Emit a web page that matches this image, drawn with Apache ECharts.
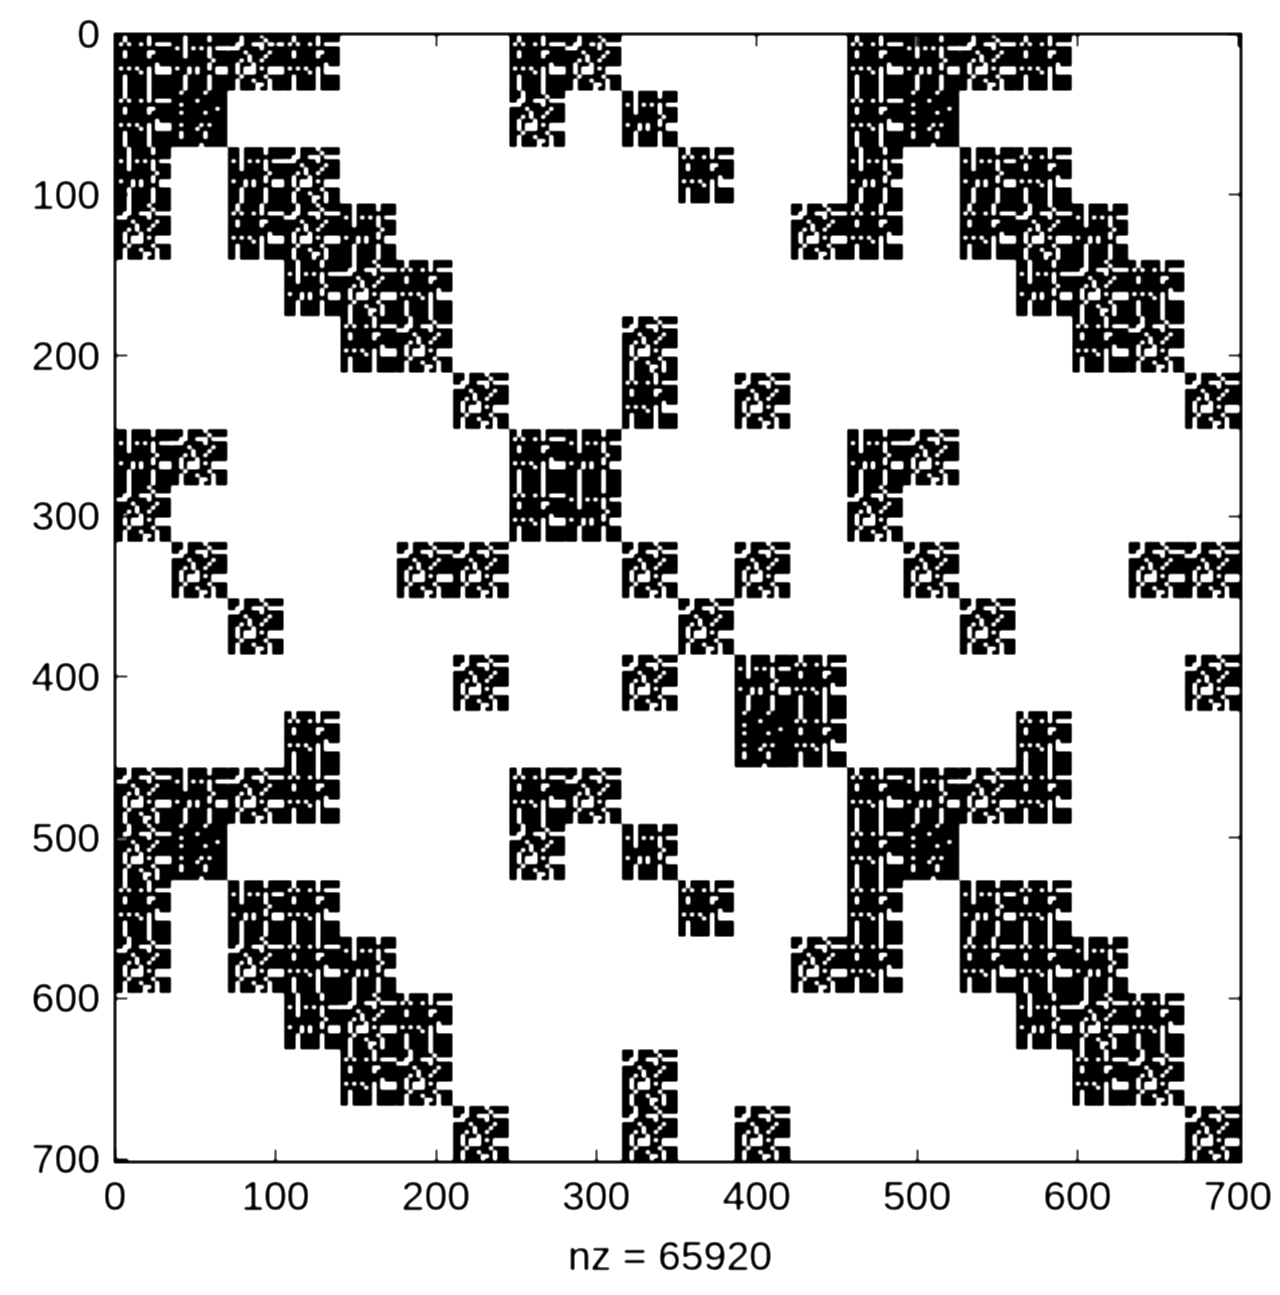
<!DOCTYPE html>
<html><head><meta charset="utf-8">
<style>html,body{margin:0;padding:0;background:#fff}#c{width:1280px;height:1295px;filter:blur(0.9px) brightness(1.25) contrast(1.35)}</style>
<script src="https://cdn.jsdelivr.net/npm/echarts@6/dist/echarts.min.js"></script>
</head><body><div id="c"></div>
<script>
const tickValues = [0,100,200,300,400,500,600,700];
const xTitle = 'nz = 65920';
const axisMax = 702;
const blockSpan = 35.1;
// which 35x35 block of the matrix holds non-zeros, and which texture it shows
const blockRows = [
"ABCA...AC....ABCA...",
"AD.....C.B...AD.....",
"B.BC......A..B.BA...",
"C.ACB.......CA.ACB..",
"...BCA..........BCA.",
"....AC...C.......AC.",
"......C..A.C.......C",
"BC.....AB....BC.....",
"C......AB....C......",
".C...CC..C.C..C...CC",
"..C.......C....C....",
"......C..C.BA......C",
"...A.......DA...A...",
"CBCA...AC....ABCA...",
"CD.....C.B...AD.....",
"A.BA......A..A.BA...",
"C.CAB.......CA.AAB..",
"...BCA..........BCA.",
"....AC...C.......AC.",
"......C..C.C.......C"
];
const tileA = [
"##.#####.#####",
"##.#####.#####",
"#.#.##.#.#....",
"##############",
"##.#####..####",
"##.#####.#####",
"##############",
"##########.###",
"#.#.#.##.#....",
"######.#.#....",
"##.#####.#####",
"##.#####.#####",
"##.#####.#####",
"##.#####.#####"];
const tileB = [
"###.#####.####",
"###.#####.####",
"###.##########",
"#.#.#.#.#.#...",
"###.#####.####",
"###.#####.####",
"##########.###",
"#########.####",
"#.##.#.##.#...",
"####.#.####...",
"###.#####.####",
"###.#####.####",
"###.#####.####",
"###.#####.####"];
const tileC = [
"###.####.#####",
"###.#####.####",
"##..##...#....",
"...#####.#####",
"####.#####.###",
"#####.###.####",
"###.#.##.#####",
"##.###.#######",
"##.#...#.#....",
"##.#...###....",
"###.#####.####",
"##.###.###.###",
"##.####..#.###",
"##.####.##.###"];
const tileD = [
"##.#####.#####",
"##############",
"######.#######",
"##.###########",
"###########.##",
"##.#####.#####",
"##############",
"##############",
"##.####.#.####",
"######.#######",
"##.#####.#####",
"##.#####.#####",
"##############",
"#######.######"];
const tiles = {A:tileA,B:tileB,C:tileC,D:tileD};

const tileRuns = {};
Object.keys(tiles).forEach(k=>{
  const runs=[];
  tiles[k].forEach((line,r)=>{
    let s=-1;
    for(let i=0;i<=line.length;i++){
      if(line[i]==='#'){ if(s<0) s=i; }
      else if(s>=0){ runs.push([s,i,r]); s=-1; }
    }
  });
  tileRuns[k]=runs;
});
const tileKeys = Object.keys(tiles);
const cells=[];
blockRows.forEach((row,r)=>{
  for(let c=0;c<row.length;c++){
    if(row[c]!=='.') cells.push([c*blockSpan,r*blockSpan,tileKeys.indexOf(row[c])]);
  }
});
const ink='#000', axisInk='#000', textInk='#000', font='"Liberation Sans", Arial, sans-serif', fs=41;
const unit=blockSpan/14;
function renderItem(params,api){
  const x=api.value(0), y=api.value(1), runs=tileRuns[tileKeys[api.value(2)]];
  const children=runs.map(run=>{
    const p0=api.coord([x+run[0]*unit,y+run[2]*unit]);
    const p1=api.coord([x+run[1]*unit,y+(run[2]+1)*unit]);
    return {type:'rect',shape:{x:p0[0],y:p0[1],width:p1[0]-p0[0],height:p1[1]-p0[1]+0.5},style:{fill:ink}};
  });
  return {type:'group',children};
}
const line={show:true,onZero:false,lineStyle:{color:axisInk,width:3.5}};
const tick={show:true,inside:true,length:13,customValues:tickValues,lineStyle:{color:axisInk,width:2.5}};
const label={show:true,fontFamily:font,fontSize:fs,color:textInk,customValues:tickValues,formatter:v=>String(v),textBorderColor:'#000',textBorderWidth:0.5};
const chart=echarts.init(document.getElementById('c'),null,{renderer:'canvas'});
chart.setOption({
  animation:false,
  backgroundColor:'#fff',
  grid:{left:115,right:39,top:34,bottom:133,containLabel:false},
  xAxis:[
    {type:'value',position:'bottom',min:0,max:axisMax,interval:100,splitLine:{show:false},axisLine:line,axisTick:tick,
     axisLabel:Object.assign({},label,{margin:16}),
     name:xTitle,nameLocation:'middle',nameGap:76,
     nameTextStyle:{fontFamily:font,fontSize:fs,color:textInk,padding:[0,16,0,0],textBorderColor:'#000',textBorderWidth:0.5}},
    {type:'value',position:'top',min:0,max:axisMax,interval:100,splitLine:{show:false},axisLine:line,axisTick:tick,axisLabel:{show:false}}
  ],
  yAxis:[
    {type:'value',position:'left',inverse:true,min:0,max:axisMax,interval:100,splitLine:{show:false},axisLine:line,axisTick:tick,
     axisLabel:Object.assign({},label,{margin:15,verticalAlign:'top',lineHeight:6})},
    {type:'value',position:'right',inverse:true,min:0,max:axisMax,interval:100,splitLine:{show:false},axisLine:line,axisTick:tick,axisLabel:{show:false}}
  ],
  series:[{type:'custom',coordinateSystem:'cartesian2d',renderItem,data:cells,clip:true,silent:true,encode:{x:0,y:1}}]
});
</script></body></html>
